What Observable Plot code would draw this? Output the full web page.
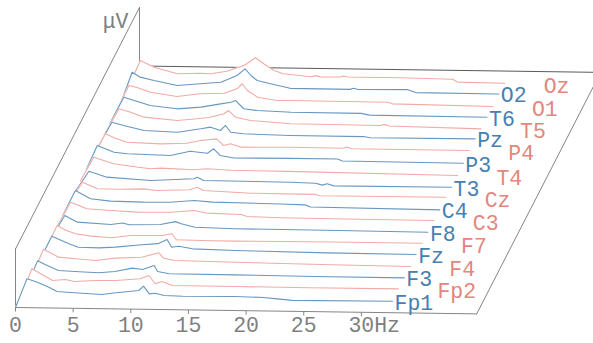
<!DOCTYPE html>
<html>
<head>
<meta charset="utf-8">
<script src="https://cdn.jsdelivr.net/npm/d3@7"></script>
<script src="https://cdn.jsdelivr.net/npm/@observablehq/plot@0.6"></script>
<style>
  html, body { margin: 0; padding: 0; background: #fff; overflow: hidden; }
  #chart { width: 593px; height: 343px; }
</style>
</head>
<body>
<div id="chart"></div>
<script>
// ---------- data: [frequency Hz, amplitude μV-units] ----------
const channelNames = ["Fp1","Fp2","F3","F4","Fz","F7","F8","C3","C4","Cz","T3","T4","P3","P4","Pz","T5","T6","O1","O2","Oz"];
const channelGroup = ["blue","red","blue","red","blue","red","blue","red","blue","red","blue","red","blue","red","blue","red","blue","red","blue","red"];

const specFp1 = [[0,0],[1.0,29],[1.9,25.6],[2.9,20.8],[3.6,16.6],[5.1,15.5],[7.5,14.2],[8.7,16.1],[10.7,18.7],[11.1,23.1],[11.6,15.5],[12.1,16.2],[12.9,14.1],[14.5,13.6],[19,14],[21.5,13.5],[22.7,12.3],[24,11],[32.7,11.5]];
const specFp2 = [[0,0],[0.9,27.3],[2.1,19.8],[2.7,15.9],[3.8,17.1],[4.6,15.2],[6.4,16.5],[8.2,16.8],[10.3,18.9],[11.05,22.3],[11.6,14.1],[12.2,16.5],[13.1,12.6],[18.6,12.5],[25,12.2],[32.7,12.4]];
const specF3  = [[0,0],[0.9,24],[1.5,20.5],[2.7,14.4],[4.5,13.5],[6.2,12.7],[7.6,14.2],[9.1,17.8],[10,16.6],[11,20.8],[11.3,14.8],[12.3,12.7],[18,12.5],[25,12],[32.7,11.9]];
const specF4  = [[0,0],[0.9,24],[2.2,16.2],[3.7,14.8],[5.4,13.4],[7.1,16],[9.4,17.3],[10.9,22],[11.3,16.6],[12.3,14.5],[17.6,13.6],[25,12.5],[32.7,11.7]];
const specFz  = [[0,0],[1.1,25.5],[2.6,18.1],[3.4,14.8],[5.2,14.5],[6.6,15.4],[8.9,18.1],[10.3,19.5],[11.1,23.8],[11.5,16.1],[12.1,17.2],[13.3,14.8],[17,13.7],[25,12.6],[32.7,12.2]];
const specF7  = [[0,0],[1.05,24.7],[1.8,20],[2.65,16.6],[4,14.5],[5.8,13.2],[7.4,15.7],[10.2,16.1],[11,18],[11.4,12],[14.4,11.5],[16.5,11.5],[25,12],[32.7,12]];
const specF8  = [[0,0],[1.2,23.2],[2.3,16.7],[5.2,14.8],[6.2,16.5],[6.8,14.8],[9.5,15.5],[10.8,18.6],[11.3,16.5],[12.5,13.3],[16,12.3],[25,12],[32.7,11.5]];
const specC3  = [[0,0],[1.2,25],[2.6,18.6],[4.7,17.2],[7,16],[9.9,16.4],[11.9,18.4],[13,16],[16,15],[16.5,13.1],[19.4,12.3],[25,12],[32.7,11.7]];
const specC4  = [[0,0],[1.1,25.2],[2.4,17.1],[4.15,15],[7,14.5],[9.35,14.8],[11.4,16.8],[13,15.5],[18.9,14.5],[21,14],[21.5,12],[32.7,10.9]];
const specCz  = [[0,0],[1.2,22],[2.5,15.6],[4.5,15.5],[6.5,16.2],[7.7,14.7],[10.5,16],[11.15,18.6],[11.7,15.4],[15.8,13.3],[21.4,13],[21.8,11.8],[32.7,12]];
const specT3  = [[0,0],[1.25,21.5],[2.8,15.8],[6.6,13.1],[10.35,15.4],[10.65,17],[11.2,13.8],[18.7,13.3],[20.9,12.6],[21.5,10.8],[21.9,12.2],[22.5,10.2],[32.7,10.5]];
const specT4  = [[0,0],[1.15,24],[2.9,17.7],[5,14.5],[6.1,13.2],[7,14],[9.8,12.8],[11,14],[13,12.8],[18,12.5],[32.7,10.7]];
const specP3  = [[0,0],[0.95,24.2],[2.4,17.7],[3.55,16.3],[7.3,15.2],[9,19.7],[10.5,18],[11.05,22.5],[11.6,15.9],[12.8,13.5],[17.7,14],[21.8,14],[22.2,12],[32.7,11.5]];
const specP4  = [[0,0],[1.15,24.4],[2,20],[3,16.3],[5.9,15.1],[8.2,16.1],[9.4,19],[10.8,20.9],[11.4,14.3],[12,16.1],[12.9,12.9],[17.2,13.5],[21.8,13.2],[22.1,14.5],[22.5,12.8],[32.7,12.7]];
const specPz  = [[0,0],[1.2,24.5],[2.2,21.4],[4,16.6],[6.9,15.4],[8.9,19.1],[9.75,20.9],[10.6,17.7],[11.05,22.8],[11.5,16.1],[12.6,14.7],[16.7,13.7],[23,13.6],[23.6,12.5],[32.7,12.9]];
const specT5  = [[0,0],[1.3,26.4],[2.3,23.2],[3.45,18.4],[6.35,15.5],[8.1,17.5],[9.2,19.3],[10.4,22.9],[10.8,26.2],[11.4,19.6],[12.7,16.5],[16.2,13.8],[24,13.4],[24.3,14.5],[24.7,13],[32.7,11.4]];
const specT6  = [[0,0],[1.2,26.5],[2.1,23.3],[3.5,18.6],[5.8,15.6],[7.9,17.6],[9.6,21.2],[10.5,23],[10.9,24.7],[11.6,16.6],[12.8,15],[15.7,13.8],[21.8,13.6],[22.5,12],[32.7,11.5]];
const specO1  = [[0,0],[1.13,26.7],[1.9,24.5],[3,20.3],[5.3,16.4],[7.3,19.4],[9.4,20.3],[10.5,24.9],[10.96,30],[11.4,23.3],[12.3,16.8],[14,13.7],[15.1,13.9],[23.6,13.6],[24,12],[32.7,10.7]];
const specO2  = [[0,0],[0.9,28.4],[1.6,23.6],[2.8,20.4],[4.8,15.8],[6.8,17.8],[8.6,19.7],[10,26.6],[10.7,33.4],[11.2,26.8],[11.75,21.9],[12.9,18.8],[14.6,14.5],[19.8,14.3],[20.1,15.5],[20.5,14.3],[24.8,14.8],[25.5,12],[32.7,11.8]];
const specOz  = [[0,0],[1.1,28.7],[2.3,22.2],[4.3,15.9],[6.3,16.8],[7.2,16.4],[8.6,19.2],[10.1,25.1],[11.1,33],[11.8,27.1],[12.7,20.5],[13.5,17.4],[15.9,14.8],[16.3,16],[16.7,14.8],[18.4,15],[18.7,16],[19.1,15],[23.5,15],[28.2,14.2],[28.6,11.5],[32.7,11]];

const spectra = [specFp1,specFp2,specF3,specF4,specFz,specF7,specF8,specC3,specC4,specCz,specT3,specT4,specP3,specP4,specPz,specT5,specT6,specO1,specO2,specOz];

const tickValues = [0, 5, 10, 15, 20, 25];
const lastTickValue = 30;
const lastTickLabel = "30Hz";
const amplitudeLabel = "μV";

// ---------- oblique projection (frequency, depth row, amplitude) ----------
const depthShiftHz = 0.512;   // horizontal shift per depth row, in Hz units
const depthShiftAmp = 11.5;   // vertical shift per depth row, in amplitude units
const shearPerHz = 0.16;      // slight perspective tilt of the floor
const floorMaxHz = 40;
const floorDepth = 21;
const wallHeight = 58.5;

const proj = (f, d, a) => ({X: f + d * depthShiftHz, Y: a + d * depthShiftAmp - f * shearPerHz, Y0: d * depthShiftAmp - f * shearPerHz});

const colors = {
  blueLine: "#6897c0", redLine: "#f1aba4",
  blueText: "#4780b0", redText: "#e2877c",
  frame: "#858585", back: "#5a5a5a", tick: "#808080"
};

const seg = (pts) => pts.map(([f, d, a]) => proj(f, d, a));
const backFrame = [
  seg([[0, floorDepth, 0], [floorMaxHz, floorDepth, 0]]),
];
const wallFrame = [
  seg([[0, floorDepth, 0], [0, floorDepth, wallHeight]]),
  seg([[0, 0, wallHeight], [0, floorDepth, wallHeight]]),
  seg([[0, 0, 0], [0, 0, wallHeight]]),
  seg([[floorMaxHz, 0, 0], [floorMaxHz, floorDepth, 0]])
];
const frontEdge = seg([[0, 0, 0], [floorMaxHz, 0, 0]]);

const marks = [];
backFrame.forEach(s => marks.push(Plot.line(s, {x: "X", y: "Y", stroke: colors.back, strokeWidth: 1})));
wallFrame.forEach(s => marks.push(Plot.line(s, {x: "X", y: "Y", stroke: colors.frame, strokeWidth: 1})));

// back to front with hidden-line removal (white fill under each trace)
for (let d = channelNames.length - 1; d >= 0; d--) {
  const rows = spectra[d].map(([f, a]) => proj(f, d, a));
  const isBlue = channelGroup[d] === "blue";
  marks.push(Plot.areaY(rows, {x: "X", y1: "Y0", y2: "Y", fill: "white"}));
  marks.push(Plot.line(rows, {x: "X", y: "Y", stroke: isBlue ? colors.blueLine : colors.redLine, strokeWidth: 1.1}));
}

marks.push(Plot.line(frontEdge, {x: "X", y: "Y", stroke: colors.frame, strokeWidth: 1}));

// ticks along the sloped front edge
const allTicks = tickValues.concat([lastTickValue]);
marks.push(Plot.link(allTicks, {
  x1: d => d, x2: d => d,
  y1: d => -d * shearPerHz, y2: d => -d * shearPerHz - 4,
  stroke: colors.frame, strokeWidth: 1
}));

// tick labels via the library axis
marks.push(Plot.axisX({ticks: tickValues, tickSize: 0, tickPadding: 9, label: null, tickFormat: d => String(d), fill: colors.tick, fontSize: 21.5}));
marks.push(Plot.axisX({ticks: [lastTickValue], tickSize: 0, tickPadding: 9, label: null, tickFormat: () => lastTickLabel, textAnchor: "start", dx: -13, fill: colors.tick, fontSize: 21.5}));

// channel labels at line ends
const ends = channelNames.map((name, d) => {
  const last = spectra[d][spectra[d].length - 1];
  return {name, group: channelGroup[d], ...proj(last[0], d, last[1])};
});
marks.push(Plot.text(ends.filter(e => e.group === "blue"), {x: "X", y: "Y", text: "name", textAnchor: "start", lineAnchor: "middle", dx: 2, dy: 1.5, fill: colors.blueText, fontSize: 21.5}));
marks.push(Plot.text(ends.filter(e => e.group === "red"), {x: "X", y: "Y", text: "name", textAnchor: "start", lineAnchor: "middle", dx: 39, dy: 2.5, fill: colors.redText, fontSize: 21.5}));

// amplitude axis label at top of the wall
const corner = proj(0, floorDepth, wallHeight);
marks.push(Plot.text([amplitudeLabel], {x: () => corner.X, y: () => corner.Y, text: d => d, textAnchor: "end", lineAnchor: "middle", dx: -11, dy: 14, fill: colors.tick, fontSize: 21.5}));

const plot = Plot.plot({
  width: 593,
  height: 343,
  marginTop: 0, marginLeft: 0, marginRight: 0, marginBottom: 36,
  x: {type: "linear", domain: [0, 30], range: [15, 15 + 30 * 11.53], axis: null, label: null},
  y: {type: "linear", domain: [0, 300], range: [307, 7], axis: null, label: null},
  style: {fontFamily: "'Liberation Mono', monospace", fontSize: "21.5px", background: "white", overflow: "hidden"},
  marks
});
document.getElementById("chart").appendChild(plot);
</script>
</body>
</html>
